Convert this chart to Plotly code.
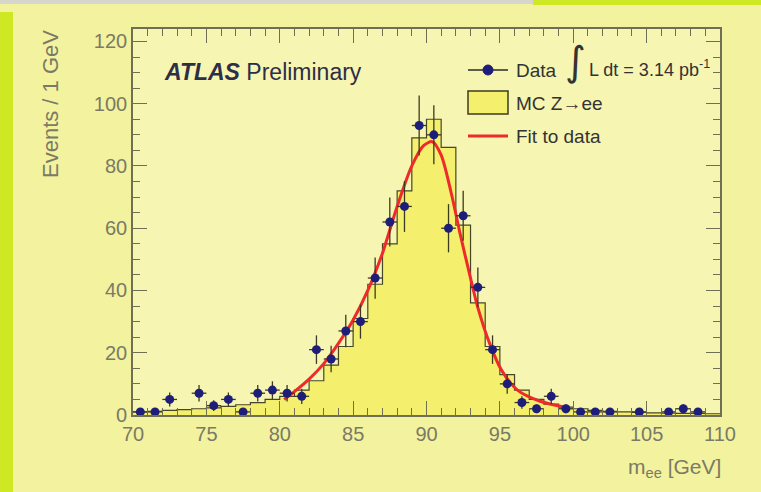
import numpy as np
import plotly.graph_objects as go

# ---- data ----
data_x = [70.5, 71.5, 72.5, 74.5, 75.5, 76.5, 77.5, 78.5, 79.5, 80.5, 81.5, 82.5,
          83.5, 84.5, 85.5, 86.5, 87.5, 88.5, 89.5, 90.5, 91.5, 92.5, 93.5, 94.5,
          95.5, 96.5, 97.5, 98.5, 99.5, 100.5, 101.5, 102.5, 104.5, 106.5, 107.5, 108.5]
data_y = [1, 1, 5, 7, 3, 5, 1, 7, 8, 7, 6, 21,
          18, 27, 30, 44, 62, 67, 93, 90, 60, 64, 41, 21,
          10, 4, 2, 6, 2, 1, 1, 1, 1, 1, 2, 1]

mc_edges = list(range(70, 111))
mc_vals = [1, 1.2, 1.5, 1.7, 2, 2.3, 2.8, 3.3, 4, 5,
           6, 8, 11, 16, 22, 31, 42, 55, 72, 89,
           95, 86, 61, 36, 22, 13, 8, 5, 3.5, 2.5,
           2, 1.5, 1.2, 1, 0.8, 0.7, 0.6, 0.5, 0.5, 0.4]

fit_x = [80.3, 81.0, 82.0, 83.0, 84.0, 85.0, 86.0, 87.0, 88.0, 89.0, 89.8, 90.4,
         91.0, 91.7, 92.3, 93.0, 93.5, 94.3, 95.1, 96.2, 97.7, 99.6]
fit_y = [5.0, 7.5, 11.5, 16.5, 23, 30.5, 40, 52, 67, 80, 86.5, 87.8,
         83.5, 71, 58, 44, 34.5, 23, 14.5, 8, 4.5, 2.3]

x_ticks = [70, 75, 80, 85, 90, 95, 100, 105, 110]
y_ticks = [0, 20, 40, 60, 80, 100, 120]

# ---- style ----
PAPER = "#f3f29e"
PLOT = "#f6f5b2"
MC_FILL = "#f4ef6c"
AXIS = "#6f6f55"
TICKFONT = "#7a7a66"
FONT = "Liberation Sans, Arial, sans-serif"

fig = go.Figure()

# MC histogram (step)
fig.add_trace(go.Scatter(
    x=mc_edges, y=mc_vals + [mc_vals[-1]],
    mode="lines", line=dict(shape="hv", color="#46462c", width=1.2),
    fill="tozeroy", fillcolor=MC_FILL, hoverinfo="skip", showlegend=False))

# Fit curve
fig.add_trace(go.Scatter(
    x=fit_x, y=fit_y, mode="lines",
    line=dict(color="#ee2a2a", width=3, shape="spline", smoothing=0.8),
    showlegend=False))

# Data points
errs = np.sqrt(np.array(data_y, dtype=float))
fig.add_trace(go.Scatter(
    x=data_x, y=data_y, mode="markers",
    marker=dict(symbol="circle", size=9, color="#1e1e7a"),
    error_y=dict(type="data", array=errs, color="#3b3b22", thickness=1.3, width=0),
    error_x=dict(type="constant", value=0.5, color="#3b3b22", thickness=1.3, width=0),
    showlegend=False))

def px2x(px):
    return (px - 133) / 587.0

def py2y(py):
    return (415 - py) / 386.0

shapes = []
# decorative photo borders
shapes.append(dict(type="rect", xref="paper", yref="paper",
                   x0=px2x(0), x1=px2x(533), y0=py2y(4), y1=py2y(-1),
                   fillcolor="#d6d6cc", line=dict(width=0), layer="above"))
shapes.append(dict(type="rect", xref="paper", yref="paper",
                   x0=px2x(533), x1=px2x(762), y0=py2y(5), y1=py2y(-1),
                   fillcolor="#cfe824", line=dict(width=0), layer="above"))
shapes.append(dict(type="rect", xref="paper", yref="paper",
                   x0=px2x(-1), x1=px2x(13), y0=py2y(493), y1=py2y(12),
                   fillcolor="#cfe824", line=dict(width=0), layer="above"))

# legend glyphs
shapes.append(dict(type="line", xref="paper", yref="paper",
                   x0=px2x(468), x1=px2x(508), y0=py2y(70), y1=py2y(70),
                   line=dict(color="#2a2a2a", width=1.5)))
shapes.append(dict(type="circle", xref="paper", yref="paper",
                   x0=px2x(483), x1=px2x(493), y0=py2y(75), y1=py2y(65),
                   fillcolor="#1e1e7a", line=dict(color="#1e1e7a", width=1)))
shapes.append(dict(type="rect", xref="paper", yref="paper",
                   x0=px2x(468), x1=px2x(508), y0=py2y(114), y1=py2y(91),
                   fillcolor=MC_FILL, line=dict(color="#3b3b22", width=1.5)))
shapes.append(dict(type="line", xref="paper", yref="paper",
                   x0=px2x(468), x1=px2x(508), y0=py2y(136), y1=py2y(136),
                   line=dict(color="#ee2a2a", width=3)))

LEG = 19
annotations = [
    dict(text="<b><i>ATLAS</i></b> Preliminary", x=px2x(162), y=py2y(72),
         xref="paper", yref="paper", xanchor="left", yanchor="middle",
         showarrow=False, font=dict(family=FONT, size=23, color="#2e2e48")),
    dict(text="Data", x=px2x(514), y=py2y(70), xref="paper", yref="paper",
         xanchor="left", yanchor="middle", showarrow=False,
         font=dict(family=FONT, size=LEG, color="#333333")),
    dict(text="∫", x=px2x(575), y=py2y(61), xref="paper", yref="paper",
         xanchor="center", yanchor="middle", showarrow=False,
         font=dict(family="DejaVu Sans", size=40, color="#333333")),
    dict(text="L dt = 3.14 pb<sup>-1</sup>", x=px2x(587), y=py2y(68), xref="paper", yref="paper",
         xanchor="left", yanchor="middle", showarrow=False,
         font=dict(family=FONT, size=LEG - 1, color="#333333")),
    dict(text="MC Z→ee", x=px2x(514), y=py2y(103), xref="paper", yref="paper",
         xanchor="left", yanchor="middle", showarrow=False,
         font=dict(family=FONT, size=LEG, color="#333333")),
    dict(text="Fit to data", x=px2x(514), y=py2y(136), xref="paper", yref="paper",
         xanchor="left", yanchor="middle", showarrow=False,
         font=dict(family=FONT, size=LEG, color="#333333")),
    dict(text="Events / 1 GeV", x=px2x(50), y=py2y(28), xref="paper", yref="paper",
         xanchor="center", yanchor="top", textangle=-90, showarrow=False,
         font=dict(family=FONT, size=22, color=TICKFONT)),
    dict(text="m<sub>ee</sub> [GeV]", x=px2x(723), y=py2y(468), xref="paper", yref="paper",
         xanchor="right", yanchor="middle", showarrow=False,
         font=dict(family=FONT, size=21, color=TICKFONT)),
]

fig.update_layout(
    width=761, height=492,
    margin=dict(l=133, r=41, t=29, b=77),
    paper_bgcolor=PAPER, plot_bgcolor=PLOT,
    showlegend=False,
    shapes=shapes, annotations=annotations,
    xaxis=dict(range=[70, 110], tickvals=x_ticks, ticks="inside", ticklen=14,
               tickcolor=AXIS, tickwidth=1.3, showline=True, linecolor=AXIS, linewidth=1.6,
               mirror="allticks", showgrid=False, zeroline=False,
               tickfont=dict(family=FONT, size=20, color=TICKFONT),
               minor=dict(dtick=1, tick0=70, ticks="inside", ticklen=7, tickcolor=AXIS,
                          tickwidth=1.1, showgrid=False)),
    yaxis=dict(range=[0, 124], tickvals=y_ticks, ticks="inside", ticklen=14,
               tickcolor=AXIS, tickwidth=1.3, showline=True, linecolor=AXIS, linewidth=1.6,
               mirror="allticks", showgrid=False, zeroline=False,
               tickfont=dict(family=FONT, size=20, color=TICKFONT),
               minor=dict(dtick=5, tick0=0, ticks="inside", ticklen=7, tickcolor=AXIS,
                          tickwidth=1.1, showgrid=False)),
)

fig.write_html("out.html")
